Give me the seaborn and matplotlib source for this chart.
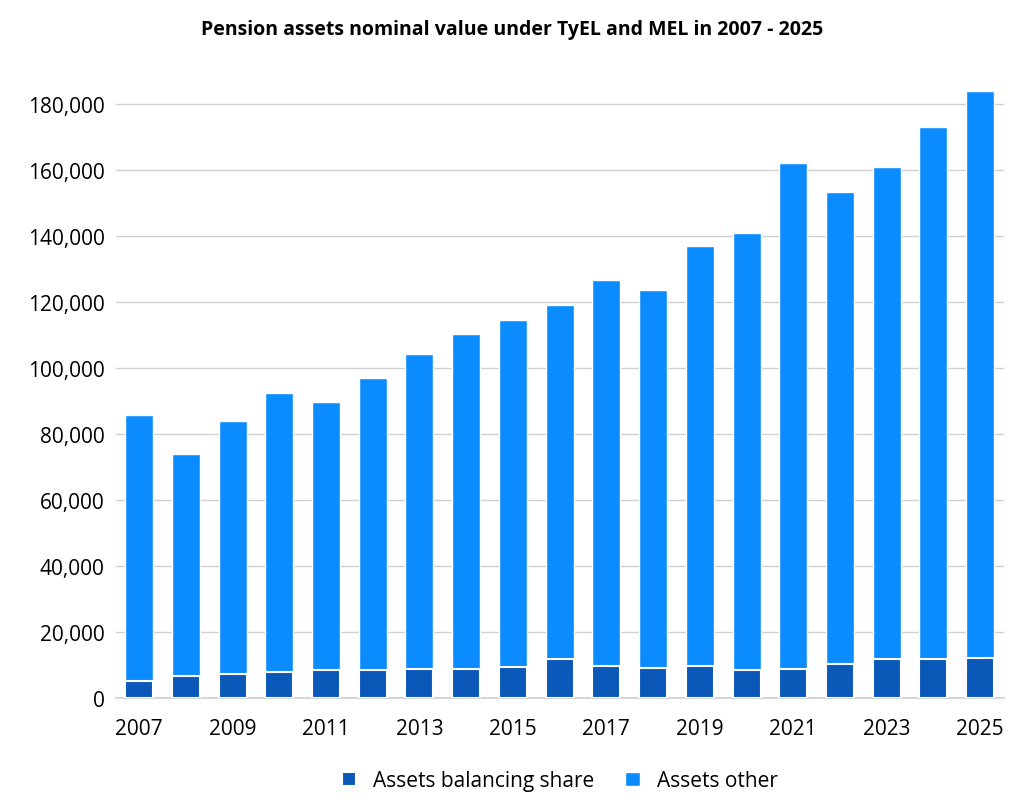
import matplotlib
matplotlib.use("Agg")
import matplotlib.pyplot as plt
import seaborn as sns
import pandas as pd

years = list(range(2007, 2026))
balancing = [5200, 6800, 7300, 7800, 8400, 8500, 8700, 8900, 9300, 11800, 9700, 9200, 9600, 8600, 8800, 10400, 11800, 12000, 12300]
total = [85700, 74000, 84100, 92600, 89700, 97000, 104300, 110300, 114600, 119300, 126800, 123700, 137100, 141000, 162100, 153300, 161000, 173200, 184000]

df = pd.DataFrame({"year": [str(y) for y in years], "bal": balancing, "total": total})

sns.set_theme(style="white")
plt.rcParams['font.family'] = ['Open Sans', 'DejaVu Sans']
plt.rcParams['text.color'] = 'black'
plt.rcParams['xtick.color'] = 'black'
plt.rcParams['ytick.color'] = 'black'

fig, ax = plt.subplots(figsize=(10.24, 8.12), dpi=100)
sns.barplot(data=df, x="year", y="total", color="#0a8cff", saturation=1, width=0.6,
            ax=ax, label="Assets other", zorder=2)
sns.barplot(data=df, x="year", y="bal", color="#0a58b8", saturation=1, width=0.6,
            edgecolor="white", linewidth=1.5, ax=ax, label="Assets balancing share", zorder=3)

ax.set_xlim(-0.5, len(years) - 0.5)
ax.set_ylim(0, 190000)
ax.set_yticks(range(0, 180001, 20000))
ax.set_yticklabels([f"{v:,}" for v in range(0, 180001, 20000)], fontsize=15)
ax.set_xticks(range(0, len(years), 2))
ax.set_xticklabels([str(y) for y in years[::2]], fontsize=15)
ax.set_xlabel("")
ax.set_ylabel("")
ax.grid(axis="y", color="#d0d0d0", linewidth=1, zorder=0)
for s in ["top", "right", "left"]:
    ax.spines[s].set_visible(False)
ax.spines["bottom"].set_color("#d0d0d0")
ax.tick_params(axis="both", length=0)
ax.tick_params(axis="x", pad=14)
ax.tick_params(axis="y", pad=8)
fig.suptitle("Pension assets nominal value under TyEL and MEL in 2007 - 2025",
             fontsize=14, fontweight="bold", y=0.975, x=0.5)
h, l = ax.get_legend_handles_labels()
ax.legend(h[::-1], l[::-1], loc="upper center", bbox_to_anchor=(0.5, -0.085), ncol=2,
          frameon=False, fontsize=15, handlelength=0.7, handleheight=0.7, columnspacing=1.5)
fig.subplots_adjust(left=0.113, right=0.98, top=0.911, bottom=0.139)
fig.savefig("out.png", dpi=100)
